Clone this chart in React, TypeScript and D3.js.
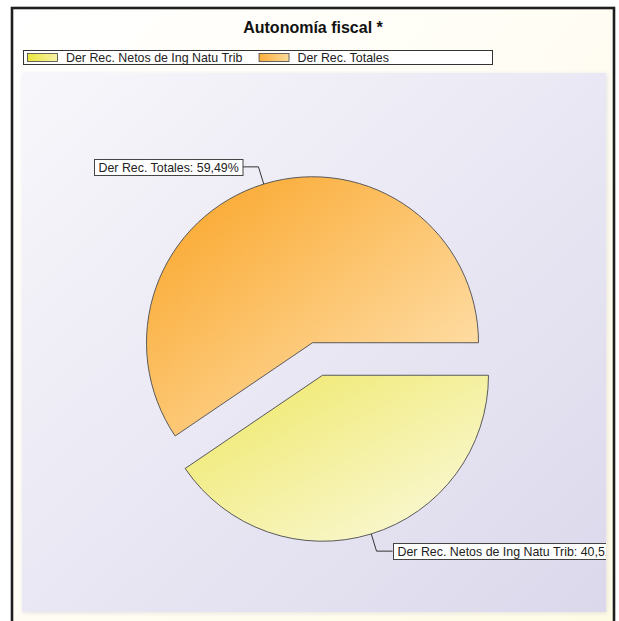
import React from 'react';
import * as d3 from 'd3';

// Autonomía fiscal — exploded two-slice pie
const TITLE = 'Autonomía fiscal *';
const categories = ['Der Rec. Netos de Ing Natu Trib', 'Der Rec. Totales'];
const values = [40.51, 59.49];
const darkColors = ['#EFE868', '#FAA62A'];
const lightColors = ['#FBFAE2', '#FFE8BE'];
const legendDark = ['#ECE53E', '#FAAE3C'];
const legendLight = ['#F6F2A6', '#FFDB9A'];

const W = 619;
const H = 621;
const FONT = "'Liberation Sans', Arial, sans-serif";
const LABEL_SIZE = 12.4;

const PLOT = { x: 22, y: 73, w: 584, h: 539 };
const CX = 317.5;
const CY = 359;
const R = 166;
const EXPLODE = 17;
const LEADER = 18;
const ELBOW = 16;

let ctx: CanvasRenderingContext2D | null = null;
function textWidth(s: string, size: number, weight = 'normal') {
  if (!ctx) ctx = document.createElement('canvas').getContext('2d');
  if (!ctx) return s.length * size * 0.55;
  ctx.font = `${weight} ${size}px ${FONT}`;
  return ctx.measureText(s).width;
}

const fmt = (v: number) => v.toFixed(2).replace('.', ',') + '%';

export default function App() {
  const pie = d3
    .pie<number>()
    .sort(null)
    .startAngle(Math.PI / 2)
    .endAngle(Math.PI / 2 + 2 * Math.PI);
  const arcs = pie(values);
  const arc = d3.arc<d3.PieArcDatum<number>>().innerRadius(0).outerRadius(R);

  // legend layout
  const legendItems: { x: number; tx: number }[] = [];
  let lx = 27;
  categories.forEach(c => {
    legendItems.push({ x: lx, tx: lx + 39 });
    lx = lx + 39 + textWidth(c, LABEL_SIZE) + 16;
  });

  return (
    <svg
      width={W}
      height={H}
      style={{ position: 'absolute', left: 0, top: 0 }}
      fontFamily={FONT}
    >
      <defs>
        <linearGradient id="bg" x1="0" y1="0" x2="1" y2="1">
          <stop offset="0" stopColor="#FFFFFF" />
          <stop offset="0.5" stopColor="#FFFDF3" />
          <stop offset="1" stopColor="#FEFBE4" />
        </linearGradient>
        <linearGradient id="plotbg" x1="0" y1="0" x2="1" y2="1">
          <stop offset="0" stopColor="#F7F7FB" />
          <stop offset="1" stopColor="#DCD8EC" />
        </linearGradient>
        {arcs.map((a, i) => (
          <linearGradient key={i} id={`slice${i}`} x1="0" y1="0" x2="1" y2="1">
            <stop offset="0.05" stopColor={darkColors[i]} />
            <stop offset="1" stopColor={lightColors[i]} />
          </linearGradient>
        ))}
        {categories.map((_, i) => (
          <linearGradient key={i} id={`leg${i}`} x1="0" y1="0" x2="1" y2="0">
            <stop offset="0" stopColor={legendDark[i]} />
            <stop offset="1" stopColor={legendLight[i]} />
          </linearGradient>
        ))}
        <clipPath id="plotclip">
          <rect x={PLOT.x} y={PLOT.y} width={PLOT.w} height={PLOT.h} />
        </clipPath>
        <filter id="shadow" x="-5%" y="-5%" width="110%" height="110%">
          <feGaussianBlur stdDeviation="2" />
        </filter>
      </defs>

      <rect x={0} y={0} width={W} height={H} fill="#FFFFFF" />
      <rect x={12} y={8} width={602} height={640} fill="url(#bg)" stroke="#1E1E1E" strokeWidth={2.6} />

      <text x={313} y={33} textAnchor="middle" fontSize={16} fontWeight="bold" fill="#111">
        {TITLE}
      </text>

      {/* legend */}
      <rect x={23.5} y={50.5} width={469} height={14} fill="#FFFFFF" stroke="#333" strokeWidth={1} />
      {categories.map((c, i) => (
        <g key={c}>
          <rect
            x={legendItems[i].x + 0.5}
            y={53.5}
            width={30}
            height={8}
            fill={`url(#leg${i})`}
            stroke="#444"
            strokeWidth={0.8}
          />
          <text x={legendItems[i].tx} y={62} fontSize={LABEL_SIZE} fill="#222">
            {c}
          </text>
        </g>
      ))}

      {/* plot area */}
      <rect
        x={PLOT.x + 1}
        y={PLOT.y + 1}
        width={PLOT.w}
        height={PLOT.h}
        fill="#C8C6D4"
        opacity={0.5}
        filter="url(#shadow)"
      />
      <rect x={PLOT.x} y={PLOT.y} width={PLOT.w} height={PLOT.h} fill="url(#plotbg)" />

      <g clipPath="url(#plotclip)">
        {arcs.map((a, i) => {
          const mid = (a.startAngle + a.endAngle) / 2;
          const dx = Math.sin(mid) * EXPLODE;
          const dy = -Math.cos(mid) * EXPLODE;
          return (
            <path
              key={i}
              transform={`translate(${CX + dx},${CY + dy})`}
              d={arc(a) ?? undefined}
              fill={`url(#slice${i})`}
              stroke="#5A5A5A"
              strokeWidth={1}
            />
          );
        })}

        {arcs.map((a, i) => {
          const mid = (a.startAngle + a.endAngle) / 2;
          const ux = Math.sin(mid);
          const uy = -Math.cos(mid);
          const cx = CX + ux * EXPLODE;
          const cy = CY + uy * EXPLODE;
          const p0 = [cx + ux * R, cy + uy * R];
          const p1 = [cx + ux * (R + LEADER), cy + uy * (R + LEADER)];
          const right = ux >= 0;
          const p2 = [p1[0] + (right ? ELBOW : -ELBOW), p1[1]];
          const label = `${categories[i]}: ${fmt(values[i])}`;
          const tw = textWidth(label, LABEL_SIZE);
          const bw = tw + 8;
          const bh = 16;
          const bx = right ? p2[0] : p2[0] - bw;
          const by = p2[1] - bh / 2;
          return (
            <g key={`lab${i}`}>
              <polyline
                points={[p0, p1, p2].map(p => p.join(',')).join(' ')}
                fill="none"
                stroke="#333"
                strokeWidth={1}
              />
              <rect
                x={Math.round(bx) + 0.5}
                y={Math.round(by) + 0.5}
                width={bw}
                height={bh}
                fill="#FFFFFF"
                stroke="#444"
                strokeWidth={1}
              />
              <text x={Math.round(bx) + 4.5} y={Math.round(by) + 12.5} fontSize={LABEL_SIZE} fill="#222">
                {label}
              </text>
            </g>
          );
        })}
      </g>
    </svg>
  );
}
